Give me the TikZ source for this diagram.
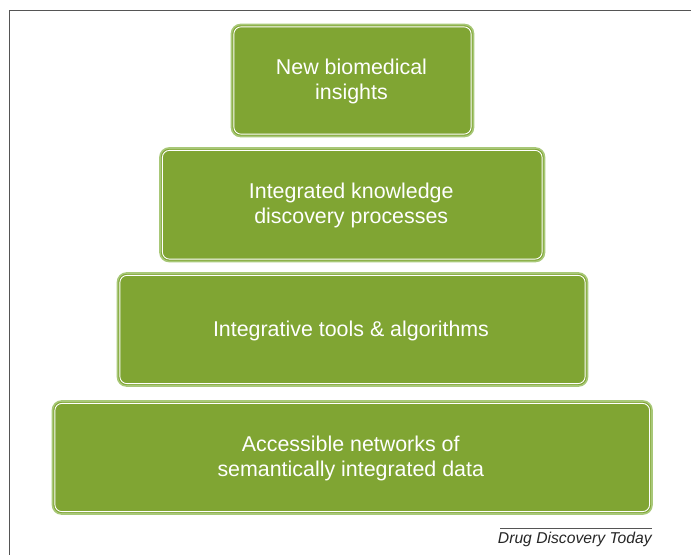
\documentclass[tikz,border=0pt]{standalone}
\usepackage{fontspec}
\setmainfont{Liberation Sans}
\definecolor{tierfill}{HTML}{80A533}
\definecolor{tierrim}{HTML}{A8C878}
\definecolor{framegray}{HTML}{555555}
\begin{document}
\begin{tikzpicture}[x=1pt,y=-1pt,
  tier/.style={fill=tierfill,draw=tierrim,line width=1.6pt,rounded corners=9pt},
  tierinner/.style={draw=white,line width=0.9pt,rounded corners=7pt},
  tiertext/.style={text=white,align=center,font=\fontsize{21.4}{25}\selectfont}]
\useasboundingbox (0,0) rectangle (691,555);
% frame (top and left only)
\draw[framegray,line width=1pt] (691,10.5) -- (9.5,10.5) -- (9.5,555);
% tiers
\newcommand{\tierbox}[5]{%
  \draw[tier] (#1,#2) rectangle (#3,#4);
  \draw[tierinner] (#1+2.4,#2+2.4) rectangle (#3-2.4,#4-2.4);
  \node[tiertext] (#5) at ({(#1+#3)/2},{(#2+#4)/2}) {};
}
\tierbox{231.5}{24.5}{473.5}{136.5}{t1}
\tierbox{160}{148}{544.5}{261.5}{t2}
\tierbox{117.5}{273}{587.5}{386}{t3}
\tierbox{52.5}{401}{652}{514}{t4}
\node[tiertext] at ([xshift=-1pt,yshift=-1pt]t1) {New biomedical\\insights};
\node[tiertext] at ([xshift=-1pt,yshift=-1pt]t2) {Integrated knowledge\\discovery processes};
\node[tiertext] at ([xshift=-1.5pt,yshift=-1pt]t3) {Integrative tools \& algorithms};
\node[tiertext] at ([xshift=-1.5pt,yshift=-1pt]t4) {Accessible networks of\\semantically integrated data};
% caption
\coordinate (capl) at (500,528);
\coordinate (capr) at (652,528);
\draw[framegray,line width=0.9pt] (capl) -- (capr);
\node[anchor=north east,inner sep=0pt,text=black!85,font=\fontsize{15.7}{18}\selectfont\itshape] (cap) at (652,532) {Drug Discovery Today};
\end{tikzpicture}
\end{document}
